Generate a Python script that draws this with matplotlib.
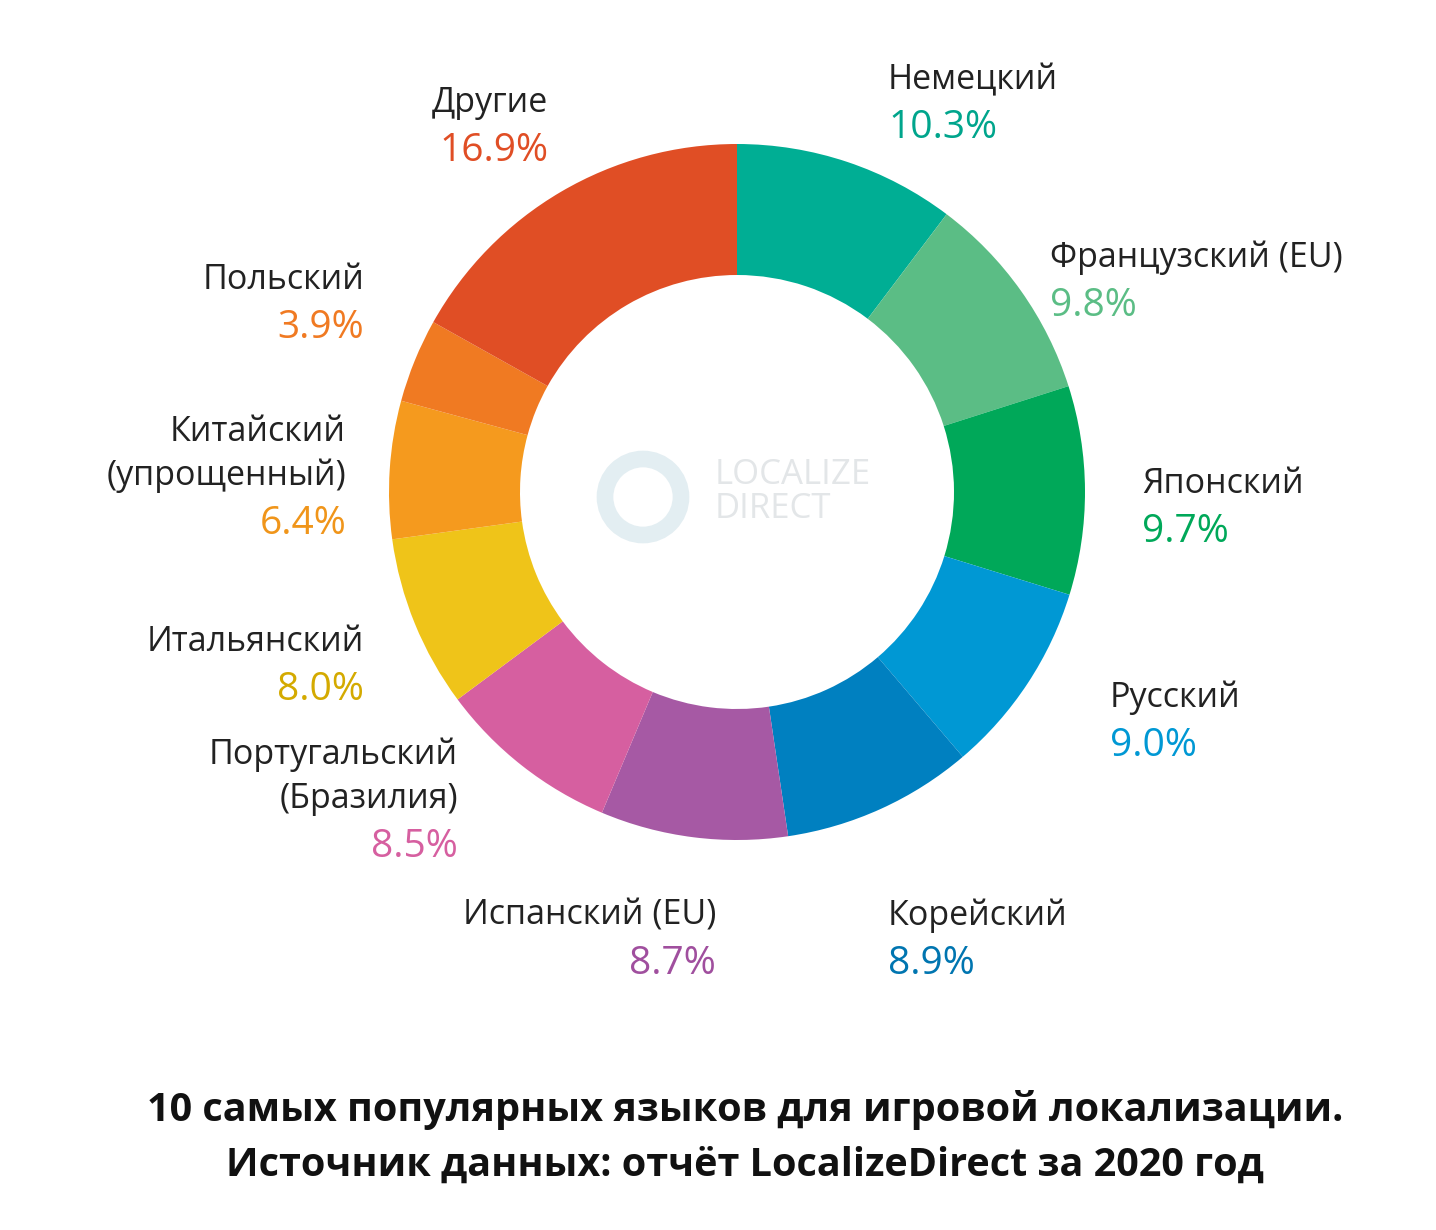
import matplotlib
matplotlib.use('Agg')
import matplotlib.pyplot as plt

plt.rcParams['font.family'] = 'Open Sans'

# -- Data --
languages = ['Немецкий', 'Французский (EU)', 'Японский', 'Русский', 'Корейский',
             'Испанский (EU)', 'Португальский\n(Бразилия)', 'Итальянский',
             'Китайский\n(упрощенный)', 'Польский', 'Другие']
shares = [10.3, 9.8, 9.7, 9.0, 8.9, 8.7, 8.5, 8.0, 6.4, 3.9, 16.9]
colors = ['#00AE94', '#5BBD85', '#00A859', '#0098D4', '#0080C0', '#A659A4',
          '#D65FA0', '#EFC419', '#F59A1E', '#F07A22', '#E04E25']
pct_colors = ['#00A58C', '#5BBD85', '#00A859', '#0098D4', '#0075B0', '#A04F9E',
              '#D65FA0', '#D4AA00', '#F0951A', '#F07A22', '#E04E25']

# label anchors in pixel coords (x, centre y of name, alignment)
label_pos = [(888, 80, 'left'), (1050, 258, 'left'), (1142, 484, 'left'),
             (1110, 698, 'left'), (888, 916, 'left'), (716, 916, 'right'),
             (458, 755, 'right'), (364, 642, 'right'), (346, 432, 'right'),
             (364, 280, 'right'), (548, 103, 'right')]

W, H = 1436, 1230
fig = plt.figure(figsize=(W / 100, H / 100), dpi=100)
ax = fig.add_axes([0, 0, 1, 1])

cx, cy, r = 737, H - 492, 348
ax.pie(shares, colors=colors, startangle=90, counterclock=False,
       center=(cx, cy), radius=r, frame=True,
       wedgeprops=dict(width=r - 217, linewidth=0))
ax.set_xlim(0, W)
ax.set_ylim(0, H)
ax.set_aspect('equal')
ax.axis('off')

line_h = 44
for name, val, pc, (x, y, ha) in zip(languages, shares, pct_colors, label_pos):
    lines = name.split('\n')
    for i, ln in enumerate(lines):
        ax.text(x, H - (y + line_h * i), ln, ha=ha, va='center', fontsize=24.5,
                color='#222222')
    ax.text(x, H - (y + line_h * len(lines) + 4), '{:.1f}%'.format(val), ha=ha,
            va='center', fontsize=28, color=pc)

# watermark
ax.text(715, H - 492, 'LOCALIZE\nDIRECT', ha='left', va='center', fontsize=25,
        color='#E3E6E8', linespacing=1.0)
ax.add_patch(plt.Circle((643, H - 497), 38, fill=False, lw=12, color='#E3EEF2'))

ax.text(745, H - 1110, '10 самых популярных языков для игровой локализации.',
        ha='center', va='center', fontsize=28.5, fontweight='bold', color='#111111')
ax.text(745, H - 1165, 'Источник данных: отчёт LocalizeDirect за 2020 год',
        ha='center', va='center', fontsize=28.5, fontweight='bold', color='#111111')

fig.savefig('out.png', dpi=100, facecolor='white')
